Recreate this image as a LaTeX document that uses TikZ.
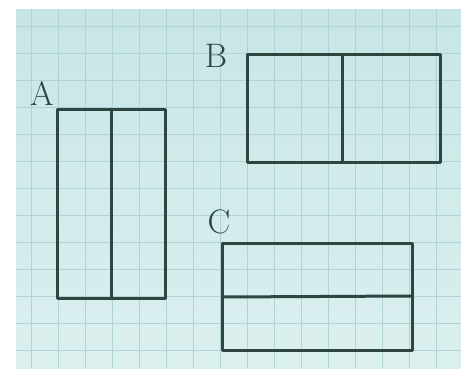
\documentclass[tikz,border=0pt]{standalone}
\usepackage{tikz}
\definecolor{paper}{HTML}{C8E6E7}
\definecolor{paperlight}{HTML}{DCEFEF}
\definecolor{gridc}{HTML}{B0D3D5}
\definecolor{pen}{HTML}{2E4540}
\tikzset{
  pen/.style={draw=pen, line width=3pt, line cap=round, line join=round},
  gridline/.style={draw=gridc, line width=1pt},
  letter/.style={text=pen, font=\fontsize{34}{34}\selectfont, inner sep=0pt}
}
\begin{document}
\begin{tikzpicture}[x=1pt,y=-1pt]
\useasboundingbox (0,0) rectangle (461,368);
\fill[white] (0,0) rectangle (461,368);
\shade[top color=paper, bottom color=paperlight] (16,9) rectangle (461,368);
% grid
\foreach \gx in {31,58,...,436} \draw[gridline] (\gx,9) -- (\gx,368);
\foreach \gy in {26,53,...,350} \draw[gridline] (16,\gy) -- (461,\gy);
% A
\draw[pen] (57,109) rectangle (165,298);
\draw[pen] (111,109) -- (111,298);
\node[letter] (la) at (42,93) {A};
% B
\draw[pen] (247,54) rectangle (440,162);
\draw[pen] (342,56) -- (342,162);
\node[letter] (lb) at (216,56) {B};
% C
\draw[pen] (222,243) rectangle (412,350);
\draw[pen] (222,297) -- (412,296);
\node[letter] (lc) at (219,222) {C};
\end{tikzpicture}
\end{document}
